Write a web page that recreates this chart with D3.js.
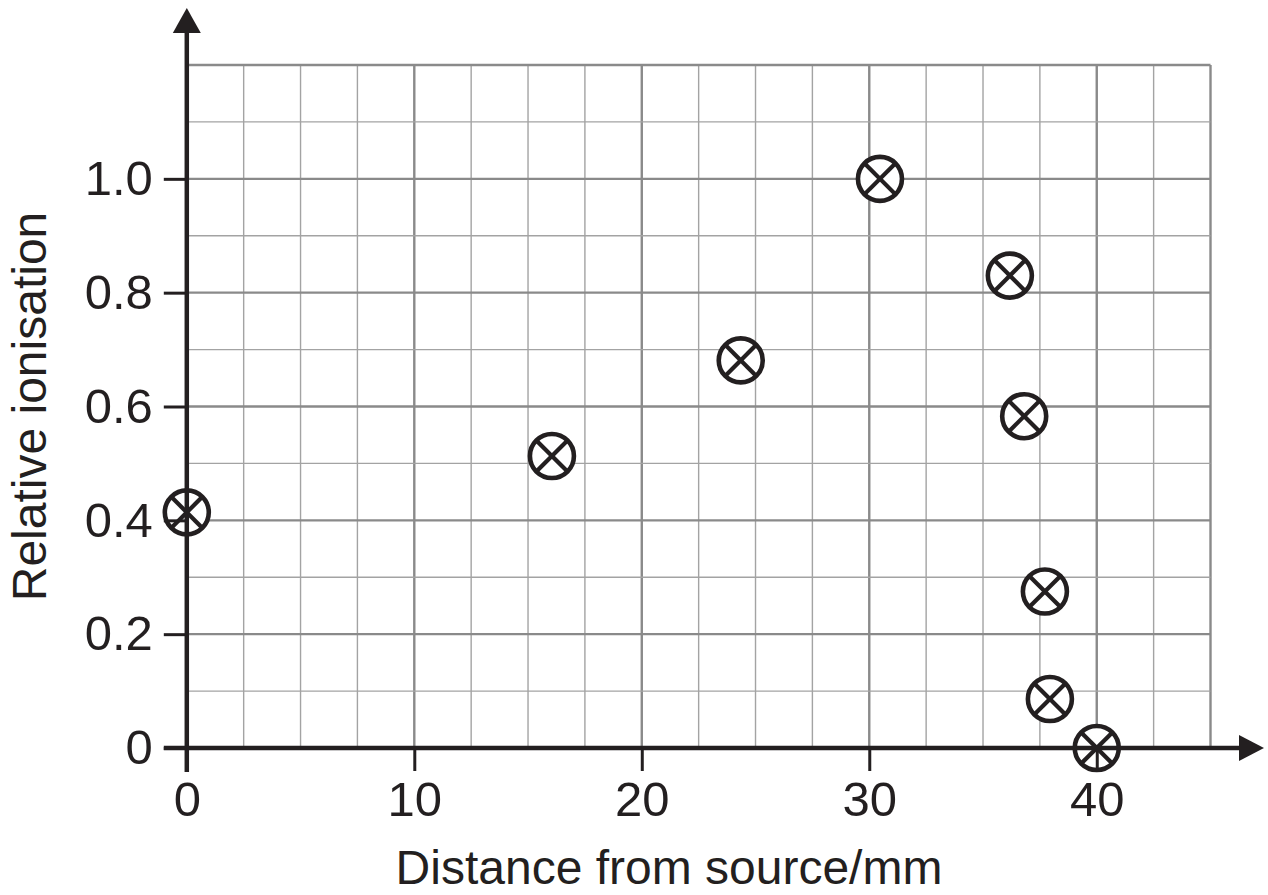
<!DOCTYPE html>
<html>
<head>
<meta charset="utf-8">
<script src="https://cdn.jsdelivr.net/npm/d3@7"></script>
<style>
  html, body { margin: 0; padding: 0; background: #ffffff; }
  svg { display: block; }
  text { font-family: "Liberation Sans", Arial, Helvetica, sans-serif; fill: #231f20; }
</style>
</head>
<body>
<svg id="chart" width="1268" height="895"></svg>
<script>
// ---- data ----
const distance   = [0, 16.05, 24.35, 30.47, 36.18, 36.81, 37.72, 37.94, 40.0];
const ionisation = [0.414, 0.513, 0.681, 1.0, 0.83, 0.583, 0.275, 0.086, 0.0];
const xTicks = [0, 10, 20, 30, 40];
const yTicks = [0, 0.2, 0.4, 0.6, 0.8, 1.0];
const yTickLabels = ["0", "0.2", "0.4", "0.6", "0.8", "1.0"];
const xTitle = "Distance from source/mm";
const yTitle = "Relative ionisation";

// ---- layout ----
const ink = "#231f20";
const svg = d3.select("#chart");
const x = d3.scaleLinear().domain([0, 45]).range([186.8, 1210.5]);
const y = d3.scaleLinear().domain([0, 1.2]).range([748, 65]);

// ---- grid ----
const grid = svg.append("g");
const xMinor = d3.range(0, 45.01, 2.5);
const yMinor = d3.range(0, 1.2001, 0.1).map(v => Math.round(v * 10) / 10);
const isMajorX = v => Math.abs(v % 10) < 1e-6 || Math.abs(v - 45) < 1e-6;
const isMajorY = v => Math.abs((v * 10) % 2) < 1e-6 || Math.abs(v - 1.2) < 1e-6;

grid.selectAll("line.vx").data(xMinor.filter(v => v > 0)).join("line")
  .attr("x1", d => x(d)).attr("x2", d => x(d))
  .attr("y1", y(0)).attr("y2", y(1.2))
  .attr("stroke", d => isMajorX(d) ? "#8a8a8a" : "#a3a3a3")
  .attr("stroke-width", d => isMajorX(d) ? 2.4 : 1.4);

grid.selectAll("line.hy").data(yMinor.filter(v => v > 0)).join("line")
  .attr("x1", x(0)).attr("x2", x(45))
  .attr("y1", d => y(d)).attr("y2", d => y(d))
  .attr("stroke", d => isMajorY(d) ? "#8a8a8a" : "#a3a3a3")
  .attr("stroke-width", d => isMajorY(d) ? 2.4 : 1.4);

// ---- markers ----
const pts = distance.map((d, i) => ({ x: distance[i], y: ionisation[i] }));
const r = 22;
const k = r * Math.SQRT1_2;
const mk = svg.append("g").selectAll("g").data(pts).join("g")
  .attr("transform", d => `translate(${x(d.x)},${y(d.y)})`);
mk.append("circle").attr("r", r).attr("fill", "#fff")
  .attr("stroke", ink).attr("stroke-width", 4.6);
mk.append("line").attr("x1", -k).attr("y1", -k).attr("x2", k).attr("y2", k)
  .attr("stroke", ink).attr("stroke-width", 4.2);
mk.append("line").attr("x1", -k).attr("y1", k).attr("x2", k).attr("y2", -k)
  .attr("stroke", ink).attr("stroke-width", 4.2);

// ---- axes ----
const fs = 49;
const gx = svg.append("g").attr("transform", `translate(0,${y(0)})`)
  .call(d3.axisBottom(x).tickValues(xTicks).tickFormat(d3.format("d"))
        .tickSize(23).tickPadding(10));
const gy = svg.append("g").attr("transform", `translate(${x(0)},0)`)
  .call(d3.axisLeft(y).tickValues(yTicks).tickFormat((d, i) => yTickLabels[i])
        .tickSize(23).tickPadding(11));
[gx, gy].forEach(g => {
  g.select(".domain").remove();
  g.selectAll(".tick line").attr("stroke", ink).attr("stroke-width", 3);
  g.selectAll(".tick text").attr("font-size", fs).attr("fill", ink)
    .attr("font-family", "'Liberation Sans', Arial, sans-serif");
});

// axis lines with arrowheads
const axes = svg.append("g");
axes.append("line")
  .attr("x1", x(0)).attr("x2", x(0))
  .attr("y1", y(0) + 24).attr("y2", 30)
  .attr("stroke", ink).attr("stroke-width", 4.5);
axes.append("path")
  .attr("d", `M${x(0)},8 L${x(0) - 14},33 L${x(0) + 14},33 Z`)
  .attr("fill", ink);
axes.append("line")
  .attr("x1", x(0) - 23).attr("x2", 1242)
  .attr("y1", y(0)).attr("y2", y(0))
  .attr("stroke", ink).attr("stroke-width", 4.5);
axes.append("path")
  .attr("d", `M1264,${y(0)} L1239,${y(0) - 13} L1239,${y(0) + 13} Z`)
  .attr("fill", ink);

// ---- titles ----
svg.append("text")
  .attr("x", 669).attr("y", 884)
  .attr("text-anchor", "middle").attr("font-size", 48)
  .text(xTitle);
svg.append("text")
  .attr("transform", `translate(46,${(y(0) + y(1.2)) / 2}) rotate(-90)`)
  .attr("text-anchor", "middle").attr("font-size", 48)
  .text(yTitle);
</script>
</body>
</html>
